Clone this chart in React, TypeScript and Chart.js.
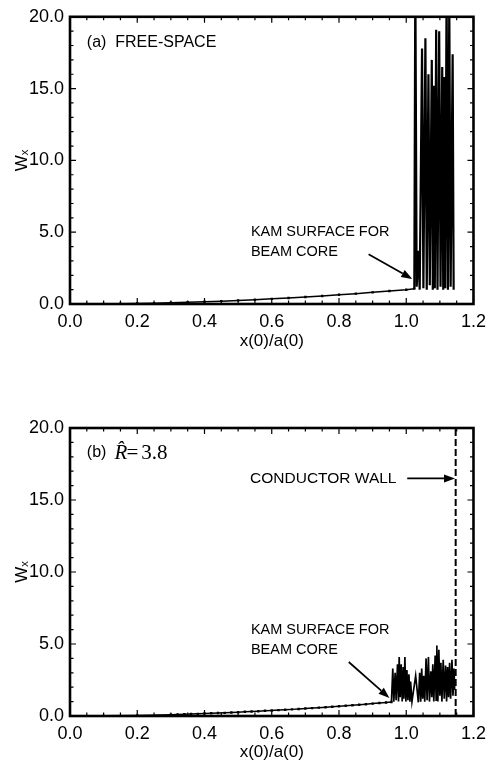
import React, { useEffect, useRef } from "react";
import { Chart, registerables } from "chart.js";

Chart.register(...registerables);

// ---------- data ----------
const xTicksStep = 0.2;
const yTicksStep = 5;

// (a) free-space: smooth core curve, then chaotic burst
const topCurveX = [0.0, 0.05, 0.1, 0.15, 0.2, 0.25, 0.3, 0.35, 0.4, 0.45, 0.5, 0.55, 0.6, 0.65, 0.7, 0.75, 0.8, 0.85, 0.9, 0.95, 1.0, 1.024];
const topCurveY = [0.0, 0.0, 0.01, 0.02, 0.04, 0.06, 0.09, 0.12, 0.16, 0.2, 0.25, 0.3, 0.36, 0.42, 0.49, 0.56, 0.64, 0.72, 0.81, 0.9, 0.99, 1.07];
const topBurstX = [1.024, 1.027, 1.031, 1.036, 1.04, 1.047, 1.051, 1.057, 1.061, 1.066, 1.07, 1.076, 1.079, 1.082, 1.085, 1.089, 1.093, 1.098, 1.102, 1.107, 1.11, 1.113, 1.116, 1.12, 1.124, 1.128, 1.132, 1.138, 1.141];
const topBurstY = [1.07, 23.0, 1.2, 3.7, 1.0, 17.8, 1.1, 18.5, 1.0, 16.0, 1.3, 17.0, 1.0, 15.2, 1.1, 19.1, 1.0, 19.0, 1.2, 16.5, 1.0, 15.8, 1.1, 22.0, 1.0, 21.0, 1.2, 17.4, 1.0];

// (b) R = 3.8: smooth core curve, then bounded burst, conductor wall
const bottomCurveX = [0.0, 0.1, 0.2, 0.3, 0.32, 0.34, 0.36, 0.38, 0.4, 0.42, 0.44, 0.46, 0.48, 0.5, 0.52, 0.54, 0.56, 0.58, 0.6, 0.62, 0.64, 0.66, 0.68, 0.7, 0.72, 0.74, 0.76, 0.78, 0.8, 0.82, 0.84, 0.86, 0.88, 0.9, 0.92, 0.94, 0.956];
const bottomCurveY = [0.0, 0.01, 0.04, 0.09, 0.1, 0.12, 0.14, 0.15, 0.17, 0.19, 0.21, 0.22, 0.24, 0.26, 0.29, 0.31, 0.33, 0.36, 0.38, 0.41, 0.43, 0.46, 0.49, 0.52, 0.55, 0.58, 0.61, 0.64, 0.68, 0.71, 0.75, 0.78, 0.82, 0.86, 0.9, 0.94, 0.97];
const bottomBurstX = [0.956, 0.96, 0.963, 0.967, 0.97, 0.974, 0.977, 0.979, 0.982, 0.985, 0.988, 0.991, 0.993, 0.996, 0.999, 1.002, 1.005, 1.008, 1.011, 1.013, 1.017, 1.028, 1.036, 1.04, 1.043, 1.046, 1.049, 1.052, 1.055, 1.059, 1.062, 1.066, 1.069, 1.073, 1.076, 1.079, 1.082, 1.086, 1.089, 1.091, 1.094, 1.097, 1.1, 1.103, 1.106, 1.11, 1.113, 1.117, 1.12, 1.123, 1.126, 1.129, 1.132, 1.136, 1.139, 1.142, 1.144];
const bottomBurstY = [0.97, 3.3, 1.0, 3.0, 1.1, 3.6, 1.0, 4.1, 1.3, 3.6, 1.0, 3.4, 1.2, 4.1, 1.0, 3.2, 1.1, 2.9, 1.0, 2.4, 1.0, 2.8, 0.95, 3.0, 1.0, 3.3, 1.2, 2.8, 1.0, 4.0, 1.1, 4.1, 1.0, 3.1, 1.3, 3.6, 1.0, 4.2, 1.1, 4.9, 1.0, 4.6, 1.4, 3.7, 1.0, 3.9, 1.2, 3.5, 1.0, 3.4, 1.3, 3.7, 1.2, 3.9, 1.4, 3.3, 1.8];
const wallX = [1.147, 1.147];
const wallY = [0, 20];

const pts = (xs: number[], ys: number[]) => xs.map((x, i) => ({ x, y: ys[i] }));

type TextItem = { text: string; x: number; y: number; font: string; align?: CanvasTextAlign };
type ArrowItem = { x1: number; y1: number; x2: number; y2: number };

const SANS = '"Liberation Sans", Arial, "DejaVu Sans", sans-serif';
const SERIF = '"Liberation Serif", "Times New Roman", serif';

function drawArrow(ctx: CanvasRenderingContext2D, x1: number, y1: number, x2: number, y2: number) {
  const ang = Math.atan2(y2 - y1, x2 - x1);
  const hl = 11;
  const hw = 4;
  const bx = x2 - hl * Math.cos(ang);
  const by = y2 - hl * Math.sin(ang);
  ctx.beginPath();
  ctx.moveTo(x1, y1);
  ctx.lineTo(bx, by);
  ctx.lineWidth = 1.7;
  ctx.stroke();
  ctx.beginPath();
  ctx.moveTo(x2, y2);
  ctx.lineTo(bx + hw * Math.sin(ang), by - hw * Math.cos(ang));
  ctx.lineTo(bx - hw * Math.sin(ang), by + hw * Math.cos(ang));
  ctx.closePath();
  ctx.fill();
}

function makePlugin(texts: TextItem[], arrows: ArrowItem[]) {
  return {
    id: "frameTicksNotes",
    afterDatasetsDraw(chart: any) {
      const { ctx, chartArea: a, scales } = chart;
      const sx = scales.x;
      const sy = scales.y;
      ctx.save();
      ctx.strokeStyle = "#000";
      ctx.fillStyle = "#000";
      // inward ticks on all four sides
      ctx.lineWidth = 1.2;
      ctx.beginPath();
      for (let i = 0; i <= 24; i++) {
        const px = sx.getPixelForValue(i * 0.05);
        const len = i % 4 === 0 ? 6 : 3.5;
        ctx.moveTo(px, a.bottom);
        ctx.lineTo(px, a.bottom - len);
        ctx.moveTo(px, a.top);
        ctx.lineTo(px, a.top + len);
      }
      for (let i = 0; i <= 20; i++) {
        const py = sy.getPixelForValue(i);
        const len = i % 5 === 0 ? 6 : 3.5;
        ctx.moveTo(a.left, py);
        ctx.lineTo(a.left + len, py);
        ctx.moveTo(a.right, py);
        ctx.lineTo(a.right - len, py);
      }
      ctx.stroke();
      // frame
      ctx.lineWidth = 2.6;
      ctx.strokeRect(a.left, a.top, a.right - a.left, a.bottom - a.top);
      // notes
      ctx.textBaseline = "middle";
      for (const t of texts) {
        ctx.font = t.font;
        ctx.textAlign = t.align || "left";
        ctx.fillText(t.text, sx.getPixelForValue(t.x), sy.getPixelForValue(t.y));
      }
      for (const ar of arrows) {
        drawArrow(
          ctx,
          sx.getPixelForValue(ar.x1),
          sy.getPixelForValue(ar.y1),
          sx.getPixelForValue(ar.x2),
          sy.getPixelForValue(ar.y2)
        );
      }
      ctx.restore();
    },
  };
}

function makeConfig(opts: {
  curve: { x: number; y: number }[];
  burst: { x: number; y: number }[];
  burstWidth: number;
  wall?: { x: number; y: number }[];
  texts: TextItem[];
  arrows: ArrowItem[];
  padTop: number;
  padBottom: number;
  xAxisHeight: number;
}): any {
  const datasets: any[] = [
    {
      data: opts.curve,
      borderColor: "#000",
      borderWidth: 1.5,
      pointStyle: "rect",
      pointRadius: 1.7,
      pointBackgroundColor: "#000",
      pointBorderWidth: 0,
      tension: 0,
    },
    {
      data: opts.burst,
      borderColor: "#000",
      borderWidth: opts.burstWidth,
      pointRadius: 0,
      tension: 0,
    },
  ];
  if (opts.wall) {
    datasets.push({
      data: opts.wall,
      borderColor: "#000",
      borderWidth: 2,
      borderDash: [7, 3],
      pointRadius: 0,
    });
  }
  const tickFont = { family: SANS, size: 18 };
  return {
    type: "line",
    data: { datasets },
    options: {
      responsive: false,
      animation: false,
      devicePixelRatio: 1,
      layout: { padding: { top: opts.padTop, bottom: opts.padBottom, left: 0, right: 15 } },
      plugins: { legend: { display: false }, tooltip: { enabled: false } },
      scales: {
        x: {
          type: "linear",
          min: 0,
          max: 1.2,
          grid: { display: false, drawTicks: false },
          border: { display: false },
          ticks: {
            stepSize: xTicksStep,
            color: "#000",
            font: tickFont,
            padding: 7,
            maxRotation: 0,
            callback: (v: number) => Number(v).toFixed(1),
          },
          title: {
            display: true,
            text: "x(0)/a(0)",
            color: "#000",
            font: { family: SANS, size: 17 },
            padding: { top: 0, bottom: 0 },
          },
          afterFit: (s: any) => {
            s.height = opts.xAxisHeight;
          },
        },
        y: {
          type: "linear",
          min: 0,
          max: 20,
          grid: { display: false, drawTicks: false },
          border: { display: false },
          ticks: {
            stepSize: yTicksStep,
            color: "#000",
            font: tickFont,
            padding: 6,
            callback: (v: number) => Number(v).toFixed(1),
          },
          title: {
            display: true,
            text: "Wₓ",
            color: "#000",
            font: { family: SANS, size: 17 },
            padding: { top: 12, bottom: 0 },
          },
          afterFit: (s: any) => {
            s.width = 70;
          },
        },
      },
    },
    plugins: [makePlugin(opts.texts, opts.arrows)],
  };
}

const noteFont = `16px ${SANS}`;
const kamFont = `14.5px ${SANS}`;

const topConfig = () =>
  makeConfig({
    curve: pts(topCurveX, topCurveY),
    burst: pts(topBurstX, topBurstY),
    burstWidth: 2.2,
    texts: [
      { text: "(a)  FREE-SPACE", x: 0.05, y: 18.2, font: noteFont },
      { text: "KAM SURFACE FOR", x: 0.538, y: 5.0, font: kamFont },
      { text: "BEAM CORE", x: 0.538, y: 3.6, font: kamFont },
    ],
    arrows: [{ x1: 0.888, y1: 3.47, x2: 1.018, y2: 1.74 }],
    padTop: 15,
    padBottom: 28,
    xAxisHeight: 48,
  });

const bottomConfig = () =>
  makeConfig({
    curve: pts(bottomCurveX, bottomCurveY),
    burst: pts(bottomBurstX, bottomBurstY),
    burstWidth: 1.7,
    wall: pts(wallX, wallY),
    texts: [
      { text: "(b)", x: 0.05, y: 18.3, font: noteFont },
      { text: "R̂", x: 0.132, y: 18.2, font: `italic 21px ${SERIF}` },
      { text: "=", x: 0.168, y: 18.2, font: `21px ${SERIF}` },
      { text: "3.8", x: 0.212, y: 18.2, font: `21px ${SERIF}` },
      { text: "CONDUCTOR WALL", x: 0.971, y: 16.5, font: `15.5px ${SANS}`, align: "right" },
      { text: "KAM SURFACE FOR", x: 0.538, y: 6.0, font: kamFont },
      { text: "BEAM CORE", x: 0.538, y: 4.6, font: kamFont },
    ],
    arrows: [
      { x1: 0.829, y1: 3.75, x2: 0.95, y2: 1.25 },
      { x1: 1.003, y1: 16.5, x2: 1.145, y2: 16.5 },
    ],
    padTop: 48,
    padBottom: 0,
    xAxisHeight: 47,
  });

function Panel({ make, top, height }: { make: () => any; top: number; height: number }) {
  const ref = useRef<HTMLCanvasElement>(null);
  useEffect(() => {
    const chart = new Chart(ref.current as HTMLCanvasElement, make());
    return () => chart.destroy();
  }, []);
  return (
    <canvas
      ref={ref}
      width={493}
      height={height}
      style={{ position: "absolute", left: 0, top, width: 493, height, display: "block" }}
    />
  );
}

export default function App() {
  return (
    <div style={{ position: "absolute", left: 0, top: 0, width: 493, height: 763, background: "#fff", overflow: "hidden" }}>
      <Panel make={topConfig} top={0} height={380} />
      <Panel make={bottomConfig} top={380} height={383} />
    </div>
  );
}
